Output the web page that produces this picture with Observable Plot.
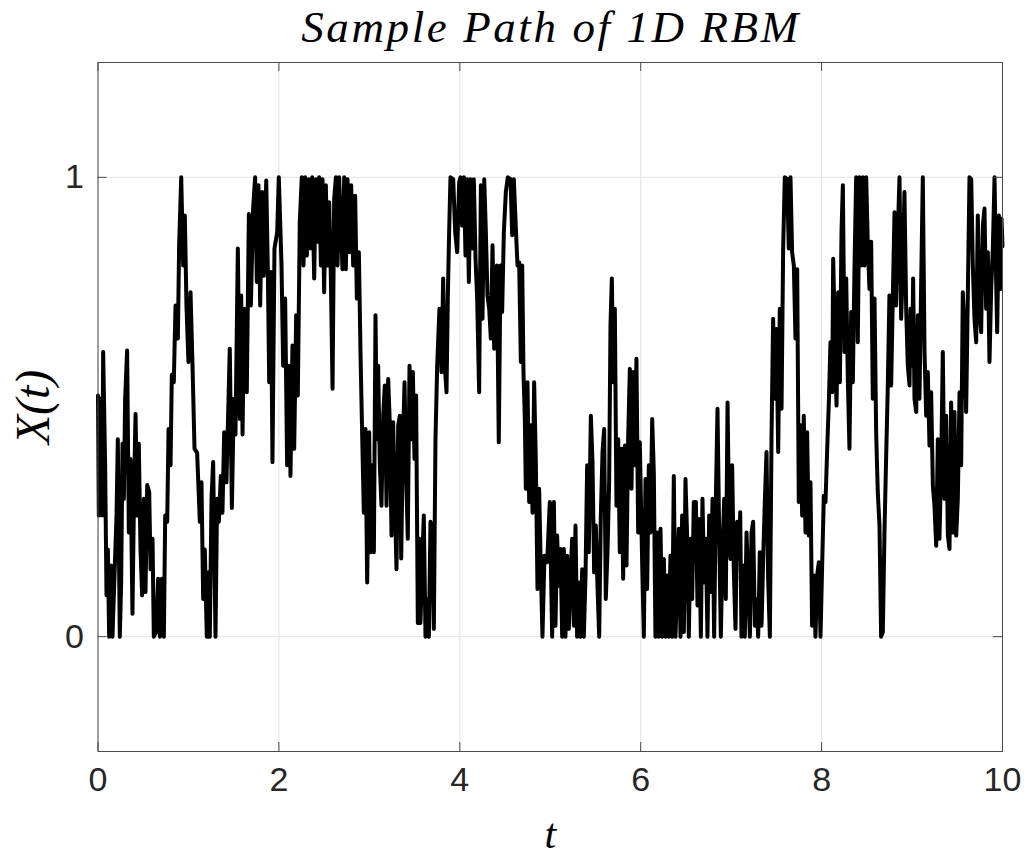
<!DOCTYPE html>
<html><head><meta charset="utf-8">
<script src="https://cdn.jsdelivr.net/npm/d3@7"></script>
<script src="https://cdn.jsdelivr.net/npm/@observablehq/plot@0.6"></script>
<style>
html,body{margin:0;padding:0;background:#fff;overflow:hidden;}
#title{height:50px;width:1029px;position:relative;}
#title span{position:absolute;left:551px;top:2px;transform:translateX(-50%);font-family:"Liberation Serif";font-style:italic;font-size:45px;letter-spacing:2.6px;line-height:50px;white-space:nowrap;color:#000;}
#chart{height:810px;}
</style></head><body>
<div id="title"><span>Sample Path of 1D RBM</span></div>
<div id="chart"></div>
<script>
const titleText = "Sample Path of 1D RBM";
const xLabel = "t";
const yLabel = "X(t)";
const xTickValues = [0, 2, 4, 6, 8, 10];
const yTickValues = [0, 1];
const xDomain = [0, 10];
const yDomain = [-0.25, 1.25];

// sample path [t, X(t)]
const pathPoints = [
[0,0.525],[0.009,0.264],[0.028,0.518],[0.046,0.264],[0.057,0.62],[0.079,0.373],[0.094,0.09],[0.109,0.19],[0.123,0],[0.146,0.155],
[0.16,0],[0.182,0.13],[0.205,0.264],[0.219,0.43],[0.241,0],[0.256,0.118],[0.271,0.42],[0.286,0.3],[0.3,0.518],[0.322,0.623],
[0.341,0.227],[0.359,0.387],[0.381,0.05],[0.4,0.336],[0.415,0.485],[0.433,0.264],[0.451,0.42],[0.47,0.19],[0.488,0.09],[0.507,0.3],
[0.525,0.097],[0.544,0.33],[0.566,0.315],[0.581,0.147],[0.603,0.213],[0.617,0],[0.643,0.01],[0.665,0.126],[0.684,0],[0.706,0.126],
[0.728,0],[0.743,0.264],[0.765,0.25],[0.78,0.452],[0.802,0.373],[0.816,0.57],[0.838,0.554],[0.857,0.721],[0.883,0.649],[0.897,0.852],
[0.92,1],[0.942,0.808],[0.96,0.917],[0.978,0.721],[1.0,0.598],
[1.023,0.75],[1.045,0.59],[1.067,0.409],[1.096,0.4],[1.126,0.25],[1.144,0.336],[1.163,0.082],[1.181,0.19],[1.203,0],[1.222,0.14],
[1.236,0],[1.255,0.3],[1.273,0.38],[1.299,0],[1.317,0.3],[1.336,0.25],[1.358,0.35],[1.376,0.27],[1.395,0.445],[1.42,0.336],
[1.457,0.627],[1.48,0.28],[1.502,0.518],[1.52,0.44],[1.546,0.845],[1.568,0.474],[1.583,0.743],[1.598,0.44],[1.616,0.714],[1.645,0.532],
[1.668,0.92],[1.69,0.721],[1.715,0.932],[1.737,1],[1.756,0.772],[1.774,0.983],[1.793,0.721],[1.815,0.968],[1.833,0.786],[1.86,0.993],
[1.878,0.794],[1.893,0.554],[1.911,0.794],[1.929,0.38],[1.951,0.845],[1.981,0.88],
[1.999,1],[2.029,0.808],[2.047,0.59],[2.069,0.736],[2.091,0.373],[2.11,0.59],[2.128,0.35],[2.15,0.634],[2.169,0.409],[2.191,0.7],
[2.209,0.525],[2.231,0.903],[2.253,1],[2.272,0.808],[2.29,1],[2.309,0.83],[2.327,0.996],[2.349,0.845],[2.368,1],[2.39,0.78],
[2.408,0.996],[2.427,0.86],[2.445,1],[2.464,0.808],[2.482,0.996],[2.5,0.75],[2.519,0.983],[2.537,0.808],[2.556,0.946],[2.574,0.786],
[2.593,0.54],[2.611,0.953],[2.63,1],[2.648,0.808],[2.666,1],[2.685,0.895],[2.703,0.8],[2.722,1],[2.74,0.8],[2.759,0.996],
[2.777,0.837],[2.799,0.983],[2.821,0.808],[2.843,0.96],[2.862,0.736],[2.884,0.837],[2.902,0.62],[2.92,0.445],[2.939,0.27],[2.957,0.452],
[2.976,0.118],[2.998,0.445],
[3.013,0.184],[3.031,0.373],[3.05,0.184],[3.068,0.7],[3.083,0.43],[3.097,0.59],[3.116,0.373],[3.134,0.285],[3.153,0.481],[3.171,0.547],
[3.19,0.285],[3.208,0.561],[3.227,0.46],[3.245,0.22],[3.263,0.467],[3.282,0.3],[3.3,0.147],[3.319,0.46],[3.337,0.481],[3.352,0.17],
[3.37,0.409],[3.389,0.554],[3.407,0.35],[3.425,0.213],[3.444,0.59],[3.462,0.43],[3.481,0.576],[3.499,0.387],[3.517,0.525],[3.536,0.03],
[3.551,0.213],[3.565,0.03],[3.584,0.155],[3.602,0.264],[3.621,0],[3.639,0.082],[3.658,0],[3.676,0.25],[3.694,0.242],[3.713,0.017],
[3.731,0.43],[3.75,0.59],[3.775,0.714],[3.798,0.576],[3.816,0.78],[3.834,0.59],[3.853,0.532],[3.868,0.743],[3.882,0.881],[3.897,1],
[3.927,0.996],[3.949,0.881],[3.971,0.837],[3.993,0.989],
[4.008,1],[4.026,0.895],[4.045,1],[4.063,0.83],[4.081,0.996],[4.1,0.772],[4.118,0.996],[4.137,0.845],[4.155,0.996],[4.174,0.823],
[4.192,0.736],[4.214,0.532],[4.233,0.983],[4.251,0.692],[4.27,0.996],[4.288,0.881],[4.306,0.743],[4.325,0.714],[4.343,0.649],[4.362,0.852],
[4.38,0.627],[4.41,0.808],[4.431,0.423],[4.45,0.808],[4.468,0.707],[4.487,0.881],[4.509,0.968],[4.531,1],[4.561,0.996],[4.579,0.874],
[4.597,0.996],[4.62,0.888],[4.638,0.808],[4.656,0.815],[4.675,0.598],[4.69,0.808],[4.704,0.576],[4.719,0.474],[4.73,0.322],[4.748,0.554],
[4.767,0.293],[4.785,0.46],[4.804,0.27],[4.822,0.554],[4.84,0.387],[4.859,0.104],[4.877,0.322],[4.896,0.147],[4.914,0],[4.936,0.176],
[4.966,0.162],[4.995,0.293],
[5.021,0],[5.04,0.293],[5.058,0.024],[5.076,0.22],[5.095,0.111],[5.113,0.191],[5.132,0],[5.15,0.191],[5.168,0],[5.187,0.176],
[5.205,0.017],[5.224,0.126],[5.242,0.213],[5.261,0.024],[5.279,0.242],[5.297,0],[5.316,0.118],[5.334,0],[5.353,0.147],[5.371,0],
[5.39,0.133],[5.408,0.373],[5.426,0.184],[5.449,0.481],[5.467,0.38],[5.485,0.14],[5.504,0.242],[5.522,0.111],[5.541,0],[5.559,0.264],
[5.578,0.402],[5.596,0.452],[5.614,0.082],[5.633,0.184],[5.651,0.336],[5.666,0.678],[5.681,0.78],[5.696,0.554],[5.714,0.714],[5.732,0.285],
[5.751,0.43],[5.769,0.184],[5.788,0.409],[5.806,0.126],[5.825,0.416],[5.843,0.155],[5.861,0.43],[5.88,0.583],[5.898,0.322],[5.917,0.576],
[5.935,0.373],[5.953,0.605],[5.972,0.227],[5.99,0.423],
[6.016,0.162],[6.035,0],[6.053,0.343],[6.071,0.104],[6.09,0.373],[6.108,0.227],[6.127,0.474],[6.145,0.358],[6.163,0],[6.182,0.227],
[6.2,0],[6.219,0.235],[6.237,0],[6.256,0.169],[6.274,0],[6.292,0.133],[6.311,0],[6.329,0.176],[6.348,0],[6.366,0.35],
[6.385,0],[6.403,0.118],[6.421,0.235],[6.44,0],[6.458,0.264],[6.477,0.01],[6.495,0.343],[6.514,0.213],[6.532,0],[6.55,0.213],
[6.569,0.082],[6.587,0.293],[6.61,0.293],[6.628,0.068],[6.646,0.256],[6.665,0],[6.683,0.3],[6.701,0.118],[6.72,0.213],[6.738,0],
[6.757,0.264],[6.775,0.097],[6.794,0.3],[6.812,0],[6.831,0.3],[6.849,0.496],[6.867,0.235],[6.886,0],[6.904,0.184],[6.923,0.3],
[6.941,0.082],[6.96,0.51],[6.982,0.191],
[6.993,0.169],[7.011,0.373],[7.03,0.14],[7.048,0.017],[7.066,0.25],[7.085,0.169],[7.1,0.271],[7.114,0],[7.133,0.155],[7.151,0],
[7.17,0.227],[7.188,0.118],[7.207,0],[7.225,0.227],[7.243,0.25],[7.262,0.024],[7.28,0.082],[7.299,0],[7.317,0.184],[7.336,0.024],
[7.354,0.169],[7.372,0.293],[7.391,0.402],[7.409,0.126],[7.428,0],[7.446,0.43],[7.464,0.692],[7.483,0.518],[7.501,0.67],[7.52,0.402],
[7.538,0.714],[7.557,0.496],[7.575,0.845],[7.593,1],[7.619,0.996],[7.637,0.845],[7.656,1],[7.674,0.837],[7.693,0.808],[7.711,0.649],
[7.73,0.8],[7.748,0.293],[7.766,0.46],[7.785,0.264],[7.803,0.481],[7.822,0.227],[7.84,0.445],[7.859,0.22],[7.877,0.336],
[7.895,0.024],[7.914,0.133],[7.932,0],[7.951,0.133],[7.969,0.162],[7.988,0],[8.006,0.155],[8.025,0.307],[8.043,0.293],[8.062,0.409],
[8.08,0.51],[8.098,0.641],[8.117,0.532],[8.128,0.823],[8.146,0.663],[8.165,0.503],[8.183,0.75],[8.202,0.554],[8.22,0.881],[8.235,0.983],
[8.253,0.62],[8.272,0.78],[8.29,0.561],[8.308,0.409],[8.327,0.707],[8.345,0.554],[8.364,0.808],[8.382,1],[8.4,0.641],[8.419,1],
[8.437,0.808],[8.456,1],[8.474,0.808],[8.493,1],[8.511,0.852],[8.529,0.757],[8.548,0.86],[8.566,0.518],[8.585,0.736],[8.603,0.445],
[8.621,0.315],[8.64,0.242],[8.658,0],[8.677,0.01],[8.695,0.227],[8.714,0.394],[8.732,0.547],[8.75,0.743],[8.769,0.547],[8.787,0.736],
[8.806,0.924],[8.824,0.721],[8.843,0.881],[8.861,1],[8.879,0.692],[8.898,0.8],[8.916,0.968],[8.935,0.714],[8.953,0.59],[8.972,0.547],
[8.983,0.714],[9.001,0.59],[9.012,0.78],[9.027,0.518],[9.046,0.489],[9.064,0.7],[9.082,0.518],[9.101,0.772],[9.119,1],[9.138,0.62],
[9.156,0.481],[9.174,0.576],[9.193,0.416],[9.211,0.532],[9.23,0.329],[9.248,0.285],[9.267,0.198],[9.285,0.43],[9.303,0.213],[9.322,0.373],
[9.34,0.62],[9.359,0.3],[9.377,0.481],[9.396,0.22],[9.414,0.191],[9.432,0.51],[9.451,0.227],[9.469,0.489],[9.488,0.22],[9.506,0.3],
[9.525,0.532],[9.543,0.373],[9.561,0.75],[9.58,0.663],[9.598,0.489],[9.617,0.75],[9.635,1],[9.654,0.996],[9.672,0.808],[9.69,0.692],
[9.709,0.641],[9.727,0.917],[9.746,0.707],[9.764,0.663],[9.783,0.895],[9.801,0.932],[9.819,0.714],[9.838,0.837],[9.856,0.598],[9.875,0.757],
[9.893,0.845],[9.912,1],[9.93,0.772],[9.941,0.663],[9.96,0.917],[9.978,0.757],[9.989,0.91],[10,0.85]
];

document.querySelector("#title span").textContent = titleText;

const W = 1029, H = 810;
const mT = 12, mB = 109, mL = 97.5, mR = 27;
const innerW = W - mL - mR, innerH = H - mT - mB;
const tick = 9;
const axisColor = "#4a4a4a";
const gridColor = "#e2e2e2";

const chart = Plot.plot({
  width: W, height: H,
  marginTop: mT, marginBottom: mB, marginLeft: mL, marginRight: mR,
  style: {background: "#fff", overflow: "visible"},
  x: {domain: xDomain},
  y: {domain: yDomain},
  marks: [
    Plot.ruleX(xTickValues, {stroke: gridColor, strokeWidth: 1}),
    Plot.ruleY(yTickValues, {stroke: gridColor, strokeWidth: 1}),
    Plot.line(pathPoints, {x: d => d[0], y: d => d[1], stroke: "#000", strokeWidth: 4, strokeLinejoin: "round", strokeLinecap: "round"}),
    Plot.frame({stroke: axisColor, strokeWidth: 1}),
    Plot.ruleX(xTickValues, {insetTop: innerH - tick, stroke: axisColor}),
    Plot.ruleX(xTickValues, {insetBottom: innerH - tick, stroke: axisColor}),
    Plot.ruleY(yTickValues, {insetRight: innerW - tick, stroke: axisColor}),
    Plot.ruleY(yTickValues, {insetLeft: innerW - tick, stroke: axisColor}),
    Plot.axisX(xTickValues, {tickSize: 0, tickPadding: 15, fontSize: 34, fontFamily: "Liberation Sans", color: "#262626", label: null, tickFormat: d => String(d)}),
    Plot.axisY(yTickValues, {tickSize: 0, tickPadding: 14, fontSize: 34, fontFamily: "Liberation Sans", color: "#262626", label: null, tickFormat: d => String(d)}),
    Plot.text([xLabel], {text: d => d, frameAnchor: "bottom", textAnchor: "middle", lineAnchor: "middle", dy: 83, fontSize: 42, fontFamily: "Liberation Serif", fontStyle: "italic", fill: "#000"}),
    Plot.text([yLabel], {text: d => d, frameAnchor: "left", textAnchor: "middle", lineAnchor: "middle", dx: -64, rotate: -90, fontSize: 48, fontFamily: "Liberation Serif", fontStyle: "italic", letterSpacing: "2px", fill: "#000"})
  ]
});
document.getElementById("chart").appendChild(chart);
</script></body></html>
